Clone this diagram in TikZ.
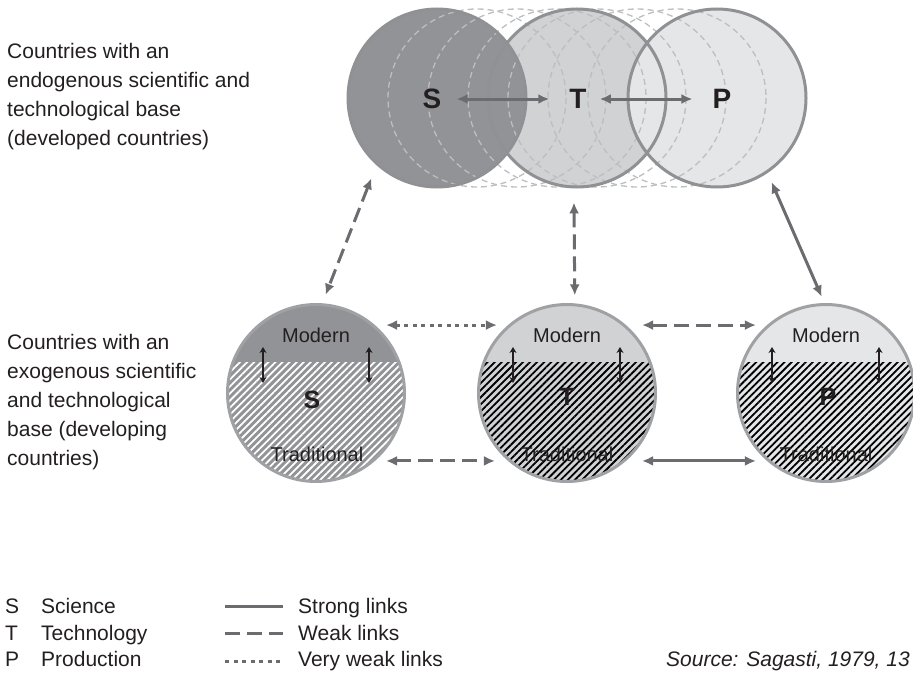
\documentclass[tikz,border=0pt]{standalone}
\usepackage{fontspec}
\setmainfont{Liberation Sans}
\usetikzlibrary{arrows.meta,patterns.meta,calc}

\definecolor{inkblack}{HTML}{231F20}
\definecolor{linkgray}{HTML}{6B6C6F}
\definecolor{ringgray}{HTML}{909194}
\definecolor{lowringgray}{HTML}{A0A1A4}
\definecolor{ghostgray}{HTML}{BDBEC0}
\definecolor{sciencefill}{HTML}{929396}
\definecolor{techfill}{HTML}{D1D2D4}
\definecolor{prodfill}{HTML}{E5E6E7}

\begin{document}
\begin{tikzpicture}[x=1pt, y=-1pt, font=\fontsize{21}{29}\selectfont, text=inkblack]
    \tikzstyle{topring} = [circle, draw=ringgray, line width=3pt, minimum size=178pt, inner sep=0pt]
    \tikzstyle{lowring} = [circle, draw=lowringgray, line width=3pt, minimum size=177pt, inner sep=0pt]
    \tikzstyle{ghost} = [draw=ghostgray, line width=1.3pt, dash pattern=on 6pt off 4pt]
    \tikzstyle{bigletter} = [inner sep=0pt, font=\fontsize{28}{28}\selectfont\bfseries]
    \tikzstyle{letter} = [inner sep=0pt, font=\fontsize{25}{25}\selectfont\bfseries]
    \tikzstyle{part} = [inner sep=0pt, font=\fontsize{20}{20}\selectfont]
    \tikzstyle{hatch} = [pattern={Lines[angle=45, distance=5pt, line width=1.8pt]}]
    \tikzstyle{plain} = [draw=linkgray, line width=3pt]
    \tikzstyle{link} = [plain, {Latex[length=11pt, width=10pt]}-{Latex[length=11pt, width=10pt]}]
    \tikzstyle{weak} = [dash pattern=on 15pt off 7pt]
    \tikzstyle{veryweak} = [dash pattern=on 4pt off 4.5pt]
    \tikzstyle{updown} = [draw=inkblack, line width=2pt, {Stealth[length=6pt, width=7pt]}-{Stealth[length=6pt, width=7pt]}]
    \tikzstyle{blurb} = [anchor=north west, align=left, inner sep=0pt]
    \tikzstyle{legend} = [anchor=base west, inner sep=0pt]

    \useasboundingbox (0,0) rectangle (913,680);

    % side texts
    \node[blurb] (endo) at (7,43) {Countries with an\\endogenous scientific and\\technological base\\(developed countries)};
    \node[blurb] (exo) at (7,334) {Countries with an\\exogenous scientific\\and technological\\base (developing\\countries)};

    % developed countries: three overlapping circles
    \fill[techfill] (577,98) circle[radius=89];
    \fill[sciencefill] (437,98) circle[radius=89];
    \fill[prodfill] (717,98) circle[radius=89];
    \draw[ghost] (477,98) circle[radius=89];
    \draw[ghost] (517,98) circle[radius=89];
    \draw[ghost] (557,98) circle[radius=89];
    \draw[ghost] (597,98) circle[radius=89];
    \draw[ghost] (637,98) circle[radius=89];
    \draw[ghost] (677,98) circle[radius=89];
    \node[topring] (Stop) at (437,98) {};
    \node[topring] (Ttop) at (577,98) {};
    \node[topring] (Ptop) at (717,98) {};

    \node[bigletter] (s) at (432,99) {S};
    \node[bigletter] (t) at (578,99) {T};
    \node[bigletter] (p) at (722,99) {P};
    \draw[link, shorten <=15pt, shorten >=20pt] (s) -- (t);
    \draw[link, shorten <=13pt, shorten >=20pt] (t) -- (p);

    % developing countries: modern part on top, traditional part hatched
    \fill[sciencefill] (316,393) circle[radius=88.5];
    \begin{scope}
        \clip (316,393) circle[radius=88.5];
        \fill[hatch, pattern color=white] (225,362) rectangle (407,485);
    \end{scope}
    \node[lowring] (Sbot) at (316,393) {};

    \fill[techfill] (567,393) circle[radius=88.5];
    \begin{scope}
        \clip (567,393) circle[radius=88.5];
        \fill[hatch, pattern color=black] (476,362) rectangle (658,485);
    \end{scope}
    \node[lowring] (Tbot) at (567,393) {};

    \fill[prodfill] (826,393) circle[radius=88.5];
    \begin{scope}
        \clip (826,393) circle[radius=88.5];
        \fill[hatch, pattern color=black] (735,362) rectangle (917,485);
    \end{scope}
    \node[lowring] (Pbot) at (826,393) {};

    \node[part] (smod) at (316,335) {Modern};
    \node[part] (tmod) at (567,335) {Modern};
    \node[part] (pmod) at (826,335) {Modern};
    \node[part] (strad) at (317,454) {Traditional};
    \node[part] (ttrad) at (567,454) {Traditional};
    \node[part] (ptrad) at (826,454) {Traditional};
    \node[letter] (sl) at (312,400) {S};
    \node[letter] (tl) at (567,397) {T};
    \node[letter] (pl) at (828,397) {P};

    \draw[updown] ($(Sbot.center)+(-53,-46)$) -- ++(0,36);
    \draw[updown] ($(Sbot.center)+(53,-46)$) -- ++(0,36);
    \draw[updown] ($(Tbot.center)+(-54,-46)$) -- ++(0,36);
    \draw[updown] ($(Tbot.center)+(53,-46)$) -- ++(0,36);
    \draw[updown] ($(Pbot.center)+(-54,-46)$) -- ++(0,36);
    \draw[updown] ($(Pbot.center)+(53,-46)$) -- ++(0,36);

    % links between the two groups
    \draw[link, weak, shorten <=14pt, shorten >=9pt] (Stop.228) -- (Sbot.86);
    \draw[link, weak, shorten <=14pt, shorten >=8pt] (Ttop.268) -- (Tbot.85.5);
    \draw[link, shorten <=10pt, shorten >=7pt] (Ptop.304) -- (Pbot.91);

    \draw[link, veryweak, shorten <=11pt, shorten >=11pt] (Sbot.49) -- (Tbot.131);
    \draw[link, weak, shorten <=16pt, shorten >=11pt] (Tbot.49) -- (Pbot.131);
    \draw[link, weak, shorten <=11pt, shorten >=13pt] (Sbot.-49) -- (Tbot.229);
    \draw[link, shorten <=16pt, shorten >=11pt] (Tbot.-49) -- (Pbot.229);

    % key
    \node[legend] (skey) at (5,613.5) {S};
    \node[legend] (tkey) at (5,640.5) {T};
    \node[legend] (pkey) at (5,666.5) {P};
    \node[legend] (science) at (41,613.5) {Science};
    \node[legend] (technology) at (41,640.5) {Technology};
    \node[legend] (production) at (41,666.5) {Production};

    \coordinate (strongfrom) at (225,606);
    \coordinate (strongto) at (283,606);
    \coordinate (weakfrom) at (225,633);
    \coordinate (weakto) at (283,633);
    \coordinate (vweakfrom) at (225,661);
    \coordinate (vweakto) at (283,661);
    \draw[plain] (strongfrom) -- (strongto);
    \draw[plain, weak] (weakfrom) -- (weakto);
    \draw[plain, veryweak] (vweakfrom) -- (vweakto);
    \node[legend] (strong) at (298,613.5) {Strong links};
    \node[legend] (weaklinks) at (298,640.5) {Weak links};
    \node[legend] (vweaklinks) at (298,666.5) {Very weak links};

    \node[anchor=base east, inner sep=0pt, font=\fontsize{21}{21}\selectfont\itshape] (source) at (910,666.5) {Source: Sagasti, 1979, 13};
\end{tikzpicture}
\end{document}
